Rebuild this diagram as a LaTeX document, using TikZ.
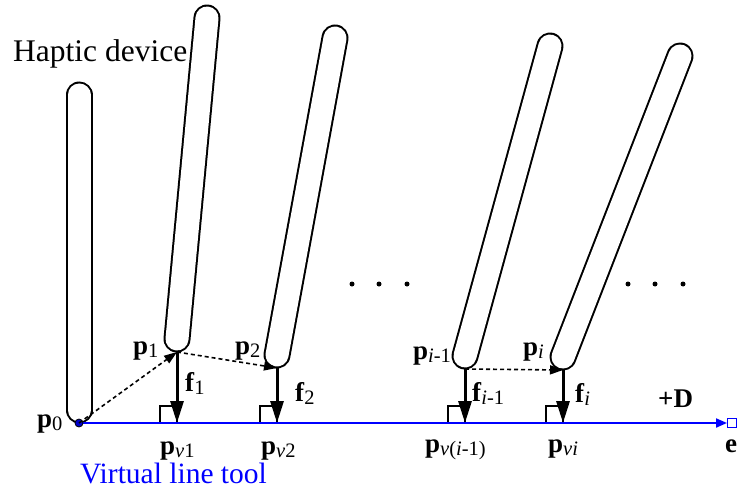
\documentclass[tikz,border=0pt]{standalone}
\usepackage{fontspec}
\setmainfont{Liberation Serif}
\usetikzlibrary{arrows.meta}
\newcommand\lbl[2]{\textbf{#1}\raisebox{-3pt}{\fontsize{20.5}{20.5}\selectfont #2}}
\begin{document}
\begin{tikzpicture}[x=1pt,y=-1pt,
  rodout/.style={line width=27pt, line cap=round, black},
  rodin/.style={line width=23pt, line cap=round, white},
  force/.style={line width=3pt, -{Triangle[length=22pt,width=13pt]}},
  motion/.style={line width=1.6pt, dash pattern=on 4pt off 3pt, -{Triangle[length=13pt,width=9pt]}},
  lab/.style={inner sep=0pt, anchor=base west, font=\fontsize{27}{27}\selectfont},
  txt/.style={inner sep=0pt, anchor=base west, font=\fontsize{31.5}{31.5}\selectfont},
  ra/.style={line width=1.2pt},
  dotsty/.style={fill=black, circle, inner sep=0pt, minimum size=5pt}
]
\useasboundingbox (0,0) rectangle (739,495);

% rod axis end points (cap centres)
\coordinate (r0b) at (79,410);  \coordinate (r0t) at (79,95);
\coordinate (r1b) at (177,339); \coordinate (r1t) at (207,18);
\coordinate (r2b) at (277,355); \coordinate (r2t) at (335,38);
\coordinate (r3b) at (465,356); \coordinate (r3t) at (550,46);
\coordinate (r4b) at (563,357); \coordinate (r4t) at (680,56);

% contact points
\coordinate (p0) at (79,423);
\coordinate (p1) at (177,352);
\coordinate (p2) at (277,368);
\coordinate (p3) at (465,369);
\coordinate (p4) at (563,370);
\coordinate (v1) at (177,423);
\coordinate (v2) at (277,423);
\coordinate (v3) at (465,423);
\coordinate (v4) at (563,423);

% rods
\foreach \r in {r0,r1,r2,r3,r4}{
  \draw[rodout] (\r b) -- (\r t);
  \draw[rodin] (\r b) -- (\r t);
}

% right-angle markers
\foreach \v in {v1,v2,v3,v4}{
  \draw[ra] (\v) rectangle ++(-17,-17);
}

% virtual line tool
\node[draw=blue, fill=white, line width=1pt, minimum size=9pt, inner sep=0pt] (e) at (732,423) {};
\draw[blue, line width=2pt, -{Triangle[length=11pt,width=9pt]}] (p0) -- (e.west);
\filldraw[fill=blue!80!black, draw=black, line width=0.8pt] (p0) circle (4pt);

% force arrows
\draw[force] (p1) -- (v1);
\draw[force] (p2) -- (v2);
\draw[force] (p3) -- (v3);
\draw[force] (p4) -- (v4);

% motion arrows
\draw[motion] (p0) -- (p1);
\draw[motion] (p1) -- (p2);
\draw[motion] (p3) -- (p4);

% dots
\node[dotsty] (d1) at (352,284) {};
\node[dotsty] (d2) at (379,284) {};
\node[dotsty] (d3) at (407,284) {};
\node[dotsty] (d4) at (628,284) {};
\node[dotsty] (d5) at (655,284) {};
\node[dotsty] (d6) at (683,284) {};

% labels
\node[txt] (hap) at (13,62) {Haptic device};
\node[txt, text=blue, font=\fontsize{29.5}{29.5}\selectfont] (vlt) at (80,483) {Virtual line tool};
\node[lab] (lp0) at (37,427) {\lbl{p}{0}};
\node[lab] (lp1) at (133,354) {\lbl{p}{1}};
\node[lab] (lp2) at (235,354) {\lbl{p}{2}};
\node[lab] (lp3) at (413,359) {\lbl{p}{\textit{i}-1}};
\node[lab] (lp4) at (523,355) {\lbl{p}{\textit{i}}};
\node[lab] (lf1) at (185,391) {\lbl{f}{1}};
\node[lab] (lf2) at (295,401) {\lbl{f}{2}};
\node[lab] (lf3) at (472,401) {\lbl{f}{\textit{i}-1}};
\node[lab] (lf4) at (575,402) {\lbl{f}{\textit{i}}};
\node[lab] (lD) at (658,407) {\textbf{+D}};
\node[lab] (lv1) at (160,454) {\lbl{p}{\textit{v}1}};
\node[lab] (lv2) at (261,454) {\lbl{p}{\textit{v}2}};
\node[lab] (lv3) at (425,452) {\lbl{p}{\textit{v}(\textit{i}-1)}};
\node[lab] (lv4) at (548,452) {\lbl{p}{\textit{vi}}};
\node[lab] (le) at (725,452) {\textbf{e}};
\end{tikzpicture}
\end{document}
